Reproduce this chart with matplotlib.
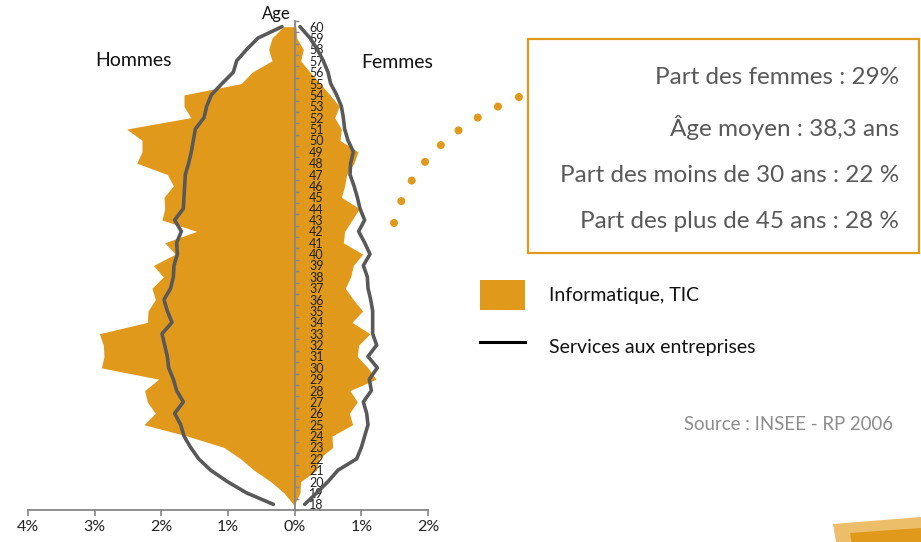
import numpy as np
import matplotlib
matplotlib.use("Agg")
import matplotlib.pyplot as plt
from matplotlib.patches import Rectangle, Polygon, Patch
from matplotlib.lines import Line2D
from matplotlib.ticker import FuncFormatter

plt.rcParams['font.family'] = ['Lato', 'DejaVu Sans']

# ---------------- data ----------------
ages = list(range(18, 61))
# Informatique, TIC (share of workforce, %), index 0 = age 18
men_tic = [0.02, 0.16, 0.36, 0.61, 0.81, 1.06, 1.61, 2.26, 2.09, 2.21,
           2.25, 2.04, 2.90, 2.86, 2.87, 2.93, 2.21, 2.20, 2.09, 2.14,
           1.97, 2.12, 1.79, 1.95, 1.47, 1.99, 1.95, 1.96, 1.82, 1.91,
           2.37, 2.29, 2.29, 2.52, 1.56, 1.66, 1.66, 0.80, 0.64, 0.34,
           0.39, 0.34, 0.17]
women_tic = [0.00, 0.08, 0.09, 0.33, 0.36, 0.57, 0.56, 0.87, 0.82, 0.94,
             0.83, 1.22, 1.10, 0.94, 0.96, 1.13, 0.86, 1.02, 0.88, 0.76,
             0.84, 0.88, 1.02, 0.73, 0.75, 0.86, 0.97, 0.70, 0.75, 0.78,
             0.89, 0.95, 0.68, 0.70, 0.60, 0.67, 0.53, 0.38, 0.23, 0.09,
             0.13, 0.03, 0.02]
# Services aux entreprises
men_serv = [0.32, 0.72, 1.01, 1.26, 1.44, 1.56, 1.66, 1.71, 1.80, 1.67,
            1.77, 1.82, 1.89, 1.91, 1.95, 1.99, 1.84, 1.91, 1.96, 1.86,
            1.82, 1.81, 1.76, 1.77, 1.70, 1.80, 1.67, 1.66, 1.65, 1.64,
            1.59, 1.55, 1.52, 1.49, 1.36, 1.32, 1.25, 1.09, 0.92, 0.87,
            0.72, 0.55, 0.19]
women_serv = [0.15, 0.33, 0.50, 0.65, 0.93, 1.00, 1.05, 1.10, 1.08, 1.03,
              1.15, 1.12, 1.24, 1.10, 1.23, 1.17, 1.17, 1.17, 1.14, 1.10,
              1.09, 1.03, 1.13, 1.05, 0.96, 1.05, 0.98, 0.94, 0.89, 0.83,
              0.84, 0.88, 0.80, 0.75, 0.73, 0.70, 0.63, 0.54, 0.50, 0.43,
              0.34, 0.23, 0.08]
x_ticks = [-4, -3, -2, -1, 0, 1, 2]
series_names = ["Informatique, TIC", "Services aux entreprises"]
side_labels = ["Hommes", "Femmes"]
axis_title = "Age"
info_lines = ["Part des femmes : 29%",
              "Âge moyen : 38,3 ans",
              "Part des moins de 30 ans : 22 %",
              "Part des plus de 45 ans : 28 %"]
source = "Source : INSEE - RP 2006"

# ---------------- styling ----------------
ORANGE = "#E0991B"
LIGHT_ORANGE = "#EDBE6A"
LINE = "#595959"
AXIS = "#868686"
W, H = 921, 542


def fx(x):
    return x / W


def fy(y):
    return 1 - y / H


fig = plt.figure(figsize=(W / 100, H / 100), dpi=100)
ax = fig.add_axes([fx(28), fy(510), 400 / W, 489 / H])

ages_a = np.array(ages)
ax.fill_betweenx(ages_a, -np.array(men_tic), 0, color=ORANGE, lw=0, zorder=1)
ax.fill_betweenx(ages_a, 0, np.array(women_tic), color=ORANGE, lw=0, zorder=1)
ax.plot(-np.array(men_serv), ages_a, color=LINE, lw=2.6,
        solid_capstyle='round', solid_joinstyle='round', zorder=2)
ax.plot(np.array(women_serv), ages_a, color=LINE, lw=2.6,
        solid_capstyle='round', solid_joinstyle='round', zorder=2)

ax.set_xlim(-4, 2)
ax.set_ylim(ages[0] - 0.5, ages[-1] + 0.5)

for s in ['top', 'left']:
    ax.spines[s].set_visible(False)
ax.spines['right'].set_position(('data', 0))
ax.spines['right'].set_color(AXIS)
ax.spines['right'].set_linewidth(1.3)
ax.spines['bottom'].set_color(AXIS)
ax.spines['bottom'].set_linewidth(1.3)

ax.set_xticks(x_ticks)
ax.xaxis.set_major_formatter(FuncFormatter(lambda v, p: f"{abs(v):.0f}%"))
ax.tick_params(axis='x', length=4, width=1.2, color=AXIS, direction='out',
               labelsize=11.5, pad=3.5, labelcolor='#222222')

ax.yaxis.set_ticks_position('right')
ax.set_yticks(np.arange(ages[0] - 0.5, ages[-1] + 1.0, 1.0))
ax.set_yticklabels([])
ax.set_yticks(ages, minor=True)
ax.set_yticklabels([str(a) for a in ages], minor=True)
ax.tick_params(axis='y', which='major', length=3, width=1.0, color=AXIS,
               direction='out')
ax.tick_params(axis='y', which='minor', length=0, pad=10.5, labelsize=9,
               labelcolor='#222222', labelright=True, labelleft=False)

fig.text(fx(276), fy(14), axis_title, ha='center', va='center', fontsize=12,
         color='#111111')
fig.text(fx(133), fy(61), side_labels[0], ha='center', va='center',
         fontsize=14, color='#111111')
fig.text(fx(397), fy(62), side_labels[1], ha='center', va='center',
         fontsize=14, color='#111111')

# info box
box = Rectangle((fx(528), fy(252.7)), (919 - 528) / W, (252.7 - 39.3) / H,
                transform=fig.transFigure, facecolor='white',
                edgecolor=ORANGE, lw=1.6, zorder=3)
fig.patches.append(box)
for txt, yy in zip(info_lines, [78, 127, 175, 222]):
    fig.text(fx(899), fy(yy), txt, ha='right', va='center', fontsize=17.5,
             color='#595959', zorder=4)

# dotted connector
t = np.linspace(0, 1, 200)
p0, p1, p2 = np.array([394, 223]), np.array([415, 140]), np.array([519, 97])
curve = ((1 - t)[:, None] ** 2) * p0 + (2 * (1 - t) * t)[:, None] * p1 + (t[:, None] ** 2) * p2
conn = Line2D(fx(curve[:, 0]), fy(curve[:, 1]), transform=fig.transFigure,
              color=ORANGE, lw=5.8, linestyle=(0, (0.01, 2.85)),
              dash_capstyle='round')
fig.lines.append(conn)

# legend
handles = [Patch(facecolor=ORANGE, edgecolor='none'),
           Line2D([], [], color='black', lw=2.2)]
fig.legend(handles, series_names, loc='upper left',
           bbox_to_anchor=(fx(480), fy(280)), frameon=False, fontsize=14,
           handlelength=2.32, handleheight=1.97, handletextpad=1.24,
           labelspacing=1.13, borderpad=0, borderaxespad=0,
           labelcolor='#111111')

fig.text(fx(893), fy(424), source, ha='right', va='center', fontsize=13.4,
         color='#8C8C8C')

# corner decoration
fig.patches.append(Polygon([(fx(833), fy(524)), (fx(921), fy(517)),
                            (fx(921), fy(542)), (fx(836), fy(542))],
                           closed=True, transform=fig.transFigure,
                           facecolor=LIGHT_ORANGE, edgecolor='none'))
fig.patches.append(Polygon([(fx(850), fy(533)), (fx(921), fy(528)),
                            (fx(921), fy(542)), (fx(851.5), fy(542))],
                           closed=True, transform=fig.transFigure,
                           facecolor=ORANGE, edgecolor='none'))

fig.savefig("out.png", dpi=100)
